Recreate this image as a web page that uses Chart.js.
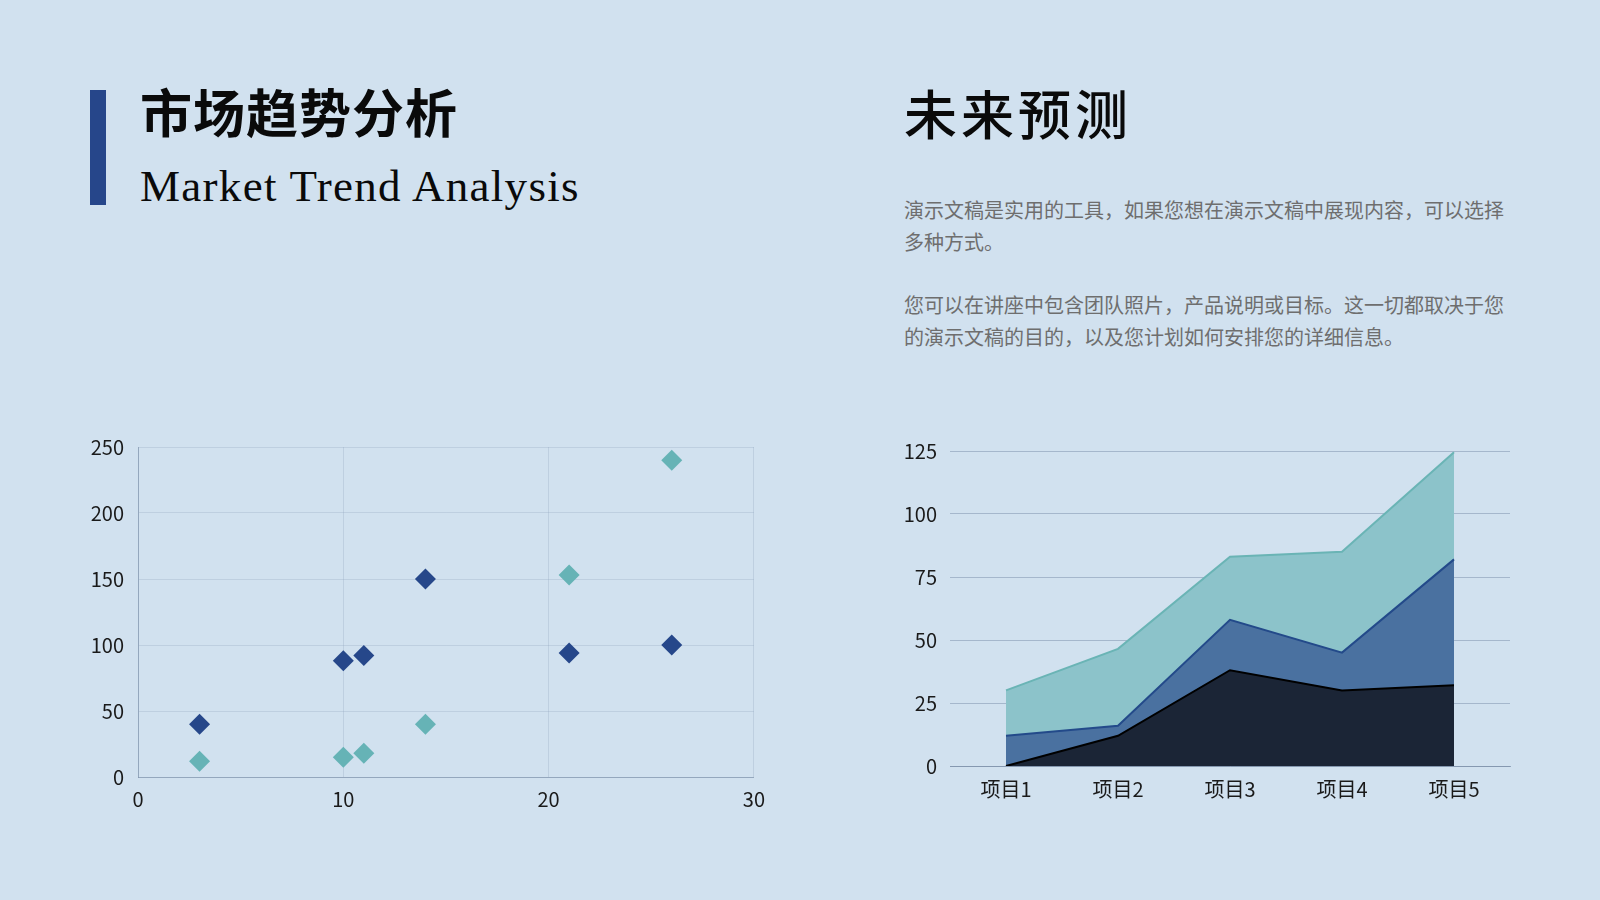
<!DOCTYPE html>
<html lang="zh">
<head>
<meta charset="utf-8">
<title>市场趋势分析</title>
<script src="https://cdn.jsdelivr.net/npm/chart.js@4.4.1/dist/chart.umd.min.js"></script>
<style>
  html, body { margin: 0; padding: 0; }
  body {
    width: 1600px; height: 900px; overflow: hidden;
    background: #d1e1ef; position: relative;
    font-family: "Noto Sans CJK SC", "Noto Sans", sans-serif;
  }
  .bar { position: absolute; left: 90px; top: 90px; width: 16px; height: 115px; background: #26468a; }
  .title-cn { position: absolute; left: 140px; top: 80px; font-size: 52px; font-weight: 700; color: #0a0a0a; line-height: 1.2; letter-spacing: 1px; }
  .title-en { position: absolute; left: 140px; top: 159px; font-family: "Liberation Serif", "DejaVu Serif", serif; font-size: 45px; color: #0a0a0a; line-height: 1.2; letter-spacing: 1.3px; }
  .title-right { position: absolute; left: 904px; top: 81px; font-size: 53px; font-weight: 500; color: #0a0a0a; line-height: 1.2; letter-spacing: 4px; }
  .para { position: absolute; left: 904px; width: 606px; font-size: 20px; color: #6e6e6e; line-height: 32px; margin: 0; }
  .p1 { top: 194px; }
  .p2 { top: 289px; }
  .chart-box { position: absolute; }
  #scatterBox { left: 80px; top: 421px; width: 695px; height: 396px; }
  #areaBox { left: 890px; top: 426px; width: 630px; height: 380px; }
</style>
</head>
<body>
<div class="bar"></div>
<div class="title-cn">市场趋势分析</div>
<div class="title-en">Market Trend Analysis</div>
<div class="title-right">未来预测</div>
<p class="para p1">演示文稿是实用的工具，如果您想在演示文稿中展现内容，可以选择多种方式。</p>
<p class="para p2">您可以在讲座中包含团队照片，产品说明或目标。这一切都取决于您的演示文稿的目的，以及您计划如何安排您的详细信息。</p>

<div class="chart-box" id="scatterBox"><canvas id="scatterChart"></canvas></div>
<div class="chart-box" id="areaBox"><canvas id="areaChart"></canvas></div>

<script>
// Scatter data (x, y pairs)
const scatterX = [3, 10, 11, 14, 21, 26];
const seriesDark = [40, 88, 92, 150, 94, 100];
const seriesTeal = [12, 15, 18, 40, 153, 240];
const scatterXTicks = [0, 10, 20, 30];
const scatterYTicks = [0, 50, 100, 150, 200, 250];

// Stacked area data
const areaLabels = ['项目1', '项目2', '项目3', '项目4', '项目5'];
const areaSeries1 = [0, 12, 38, 30, 32];
const areaSeries2 = [12, 4, 20, 15, 50];
const areaSeries3 = [18, 30.5, 25, 40, 42.5];
const areaYTicks = [0, 25, 50, 75, 100, 125];

const tickFont = { family: '"Noto Sans CJK SC", "Noto Sans", sans-serif', size: 20 };
const tickColor = '#1a1a1a';

function toPoints(xs, ys) {
    return xs.map((x, i) => ({ x: x, y: ys[i] }));
}

document.addEventListener('DOMContentLoaded', function() {
    // Scatter chart
    new Chart(document.getElementById('scatterChart'), {
        type: 'scatter',
        data: {
            datasets: [
                {
                    label: 'A',
                    data: toPoints(scatterX, seriesDark),
                    pointStyle: 'rectRot',
                    pointRadius: 10.5,
                    pointBackgroundColor: '#26478a',
                    pointBorderWidth: 0
                },
                {
                    label: 'B',
                    data: toPoints(scatterX, seriesTeal),
                    pointStyle: 'rectRot',
                    pointRadius: 10.5,
                    pointBackgroundColor: '#66b3b6',
                    pointBorderWidth: 0
                }
            ]
        },
        options: {
            responsive: true,
            maintainAspectRatio: false,
            animation: false,
            layout: { padding: { top: 12, right: 20, left: 0, bottom: 0 } },
            plugins: { legend: { display: false }, tooltip: { enabled: false } },
            scales: {
                x: {
                    type: 'linear',
                    min: 0, max: 30,
                    afterBuildTicks: s => { s.ticks = scatterXTicks.map(v => ({ value: v })); },
                    afterFit: s => { s.height = 40; },
                    grid: { color: 'rgba(140,160,185,0.28)', drawTicks: false },
                    border: { color: 'rgba(120,140,165,0.6)' },
                    ticks: { font: tickFont, color: tickColor, padding: 10, maxRotation: 0 }
                },
                y: {
                    type: 'linear',
                    min: 0, max: 250,
                    afterBuildTicks: s => { s.ticks = scatterYTicks.map(v => ({ value: v })); },
                    afterFit: s => { s.width = 58; },
                    grid: { color: 'rgba(140,160,185,0.28)', drawTicks: false },
                    border: { color: 'rgba(120,140,165,0.6)' },
                    ticks: { font: tickFont, color: tickColor, padding: 14 }
                }
            }
        }
    });

    // Stacked area chart
    new Chart(document.getElementById('areaChart'), {
        type: 'line',
        data: {
            labels: areaLabels,
            datasets: [
                {
                    label: 'S1',
                    data: areaSeries1,
                    fill: 'origin',
                    backgroundColor: '#1b2536',
                    borderColor: '#000000',
                    borderWidth: 2,
                    pointRadius: 0,
                    tension: 0
                },
                {
                    label: 'S2',
                    data: areaSeries2,
                    fill: '-1',
                    backgroundColor: '#4a71a0',
                    borderColor: '#234a8a',
                    borderWidth: 2,
                    pointRadius: 0,
                    tension: 0
                },
                {
                    label: 'S3',
                    data: areaSeries3,
                    fill: '-1',
                    backgroundColor: '#8cc3ca',
                    borderColor: '#6ab4b5',
                    borderWidth: 2,
                    pointRadius: 0,
                    tension: 0
                }
            ]
        },
        options: {
            responsive: true,
            maintainAspectRatio: false,
            animation: false,
            layout: { padding: { top: 12, right: 10, left: 0, bottom: 0 } },
            plugins: { legend: { display: false }, tooltip: { enabled: false } },
            scales: {
                x: {
                    offset: true,
                    afterFit: s => { s.height = 40; },
                    grid: { display: false },
                    border: { color: 'rgba(120,140,165,0.7)' },
                    ticks: { font: tickFont, color: tickColor, padding: 3, maxRotation: 0 }
                },
                y: {
                    stacked: true,
                    min: 0, max: 125,
                    afterBuildTicks: s => { s.ticks = areaYTicks.map(v => ({ value: v })); },
                    afterFit: s => { s.width = 60; },
                    grid: { color: 'rgba(130,150,175,0.55)', drawTicks: false },
                    border: { display: false },
                    ticks: { font: tickFont, color: tickColor, padding: 13 }
                }
            }
        }
    });
});
</script>
</body>
</html>
